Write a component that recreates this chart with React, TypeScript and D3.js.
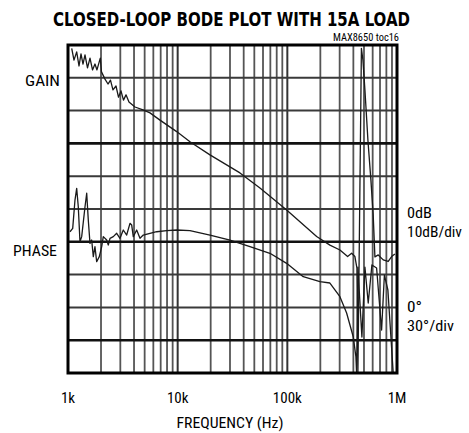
import React from "react";
import * as d3 from "d3";

// ---- data ----
const gainFreq = [1081,1134,1200,1260,1314,1370,1429,1506,1587,1673,1762,1837,1970,2020,2174,2316,2440,2570,2740,2886,3042,3206,3380,3597,4081,4828,5591,6900,9792,12947,19700,36980,56270,98540,185000,244500,301700,354500,385700,413300,431000,440100,473700,489000,510000,543000,578100,606700,628800,674500,748400,831700,893000,957000];
const gainDb = [49.0,45.4,47.9,43.6,47.3,44.2,47.0,43.0,46.0,42.4,44.2,42.4,46.0,41.8,39.6,38.1,39.3,36.3,37.5,34.1,36.0,33.2,34.8,32.6,31.1,30.2,29.3,27.1,23.6,20.5,16.5,11.0,6.4,-0.3,-8.4,-11.0,-12.5,-14.5,-13.5,-14.5,-18.0,-50,49,45.4,36.3,21,8.8,-1.8,-14.6,-14.0,-15.5,-16.0,-14.5,-13.7];

const phaseFreq = [1043,1104,1158,1200,1241,1286,1333,1429,1481,1531,1587,1644,1701,1762,1826,1929,2029,2098,2253,2330,2415,2588,2779,2979,3193,3428,3674,3807,3937,4229,4532,4857,5591,6437,7940,9792,12947,19700,29990,45610,69400,98540,139600,198300,244500,301700,347200,398800,421900,428100,440100,478600,510000,546500,590500,651600,723800,767400,826000,923500];
const phaseDeg = [69.2,72.3,98.2,108.9,92.1,60.1,64.7,92.1,104.4,79.9,58.6,61.6,46.4,55.5,41.8,46.4,55.5,64.7,61.6,57.1,63.2,64.7,67.8,63.2,70.8,66.2,76.9,75.4,64.7,70.8,63.2,66.2,67.8,69.2,70.2,70.8,70.3,66.2,61.6,55.5,49.5,40.3,28.1,23.5,22.3,9.8,-5.1,-26.8,-45.1,-60,36.9,-27.1,36.9,4.0,38.8,36.0,-20.7,29.6,15.9,-60];

const freqTicks = [1e3, 1e4, 1e5, 1e6];
const freqTickLabels = ["1k", "10k", "100k", "1M"];
const gainDomain = [-50, 50];
const phaseDomain = [-60, 240];
const yDivisions = 10;

const W = 469, H = 433;
const L = 68, R = 397, T = 45, B = 373;
const font = "'Liberation Sans Narrow', 'Roboto Condensed', 'Liberation Sans', Arial, sans-serif";

export default function App() {
  const x = d3.scaleLog().domain([1e3, 1e6]).range([L, R]);
  const yG = d3.scaleLinear().domain(gainDomain).range([B, T]);
  const yP = d3.scaleLinear().domain(phaseDomain).range([B, T]);

  const minor: number[] = [];
  for (let dec = 1e3; dec < 1e6; dec *= 10) {
    for (let k = 2; k <= 9; k++) minor.push(dec * k);
  }
  const hLines = d3.range(1, yDivisions).map((i) => T + ((B - T) * i) / yDivisions);

  const gainLine = d3
    .line<number>()
    .x((_, i) => x(gainFreq[i]))
    .y((d) => yG(d))(gainDb) as string;
  const phaseLine = d3
    .line<number>()
    .x((_, i) => x(phaseFreq[i]))
    .y((d) => yP(d))(phaseDeg) as string;

  return (
    <svg width={W} height={H} style={{ position: "absolute", left: 0, top: 0, background: "#fff" }}>
      <defs>
        <clipPath id="plot">
          <rect x={L} y={T} width={R - L} height={B - T} />
        </clipPath>
      </defs>
      <rect x={0} y={0} width={W} height={H} fill="#fff" />
      {minor.map((f) => (
        <line key={f} x1={x(f)} x2={x(f)} y1={T} y2={B} stroke="#555" strokeWidth={1.8} />
      ))}
      {freqTicks.map((f) => (
        <line key={"d" + f} x1={x(f)} x2={x(f)} y1={T} y2={B} stroke="#333" strokeWidth={2} />
      ))}
      {hLines.map((y, i) => (
        <line key={"h" + i} x1={L} x2={R} y1={y} y2={y} stroke={i % 3 === 2 ? "#111" : "#3a3a3a"} strokeWidth={i % 3 === 2 ? 2.6 : 2} />
      ))}
      <g clipPath="url(#plot)">
        <path d={gainLine} fill="none" stroke="#1a1a1a" strokeWidth={1.3} strokeLinejoin="round" />
        <path d={phaseLine} fill="none" stroke="#1a1a1a" strokeWidth={1.3} strokeLinejoin="round" />
      </g>
      <rect x={L} y={T} width={R - L} height={B - T} fill="none" stroke="#000" strokeWidth={3} />

      <text x={53} y={26} fontFamily="'DejaVu Sans Condensed', 'DejaVu Sans', sans-serif" fontWeight="bold" fontSize={19} textLength={357} lengthAdjust="spacingAndGlyphs">
        CLOSED-LOOP BODE PLOT WITH 15A LOAD
      </text>
      <text x={333} y={41} fontFamily={font} fontSize={10.5} textLength={66} lengthAdjust="spacingAndGlyphs">
        MAX8650 toc16
      </text>
      <text x={25} y={86} fontFamily={font} fontSize={15} textLength={35} lengthAdjust="spacingAndGlyphs">GAIN</text>
      <text x={13} y={256} fontFamily={font} fontSize={15} textLength={44} lengthAdjust="spacingAndGlyphs">PHASE</text>
      <text x={407} y={218} fontFamily={font} fontSize={15} textLength={25} lengthAdjust="spacingAndGlyphs">0dB</text>
      <text x={407} y={237} fontFamily={font} fontSize={15} textLength={55} lengthAdjust="spacingAndGlyphs">10dB/div</text>
      <text x={407} y={312} fontFamily={font} fontSize={15} textLength={15} lengthAdjust="spacingAndGlyphs">0°</text>
      <text x={407} y={331} fontFamily={font} fontSize={15} textLength={47} lengthAdjust="spacingAndGlyphs">30°/div</text>
      {freqTicks.map((f, i) => (
        <text key={"t" + f} x={x(f)} y={403} fontFamily={font} fontSize={15} textAnchor="middle">
          {freqTickLabels[i]}
        </text>
      ))}
      <text x={230} y={428} fontFamily={font} fontSize={15} textAnchor="middle" textLength={107} lengthAdjust="spacingAndGlyphs">
        FREQUENCY (Hz)
      </text>
    </svg>
  );
}
